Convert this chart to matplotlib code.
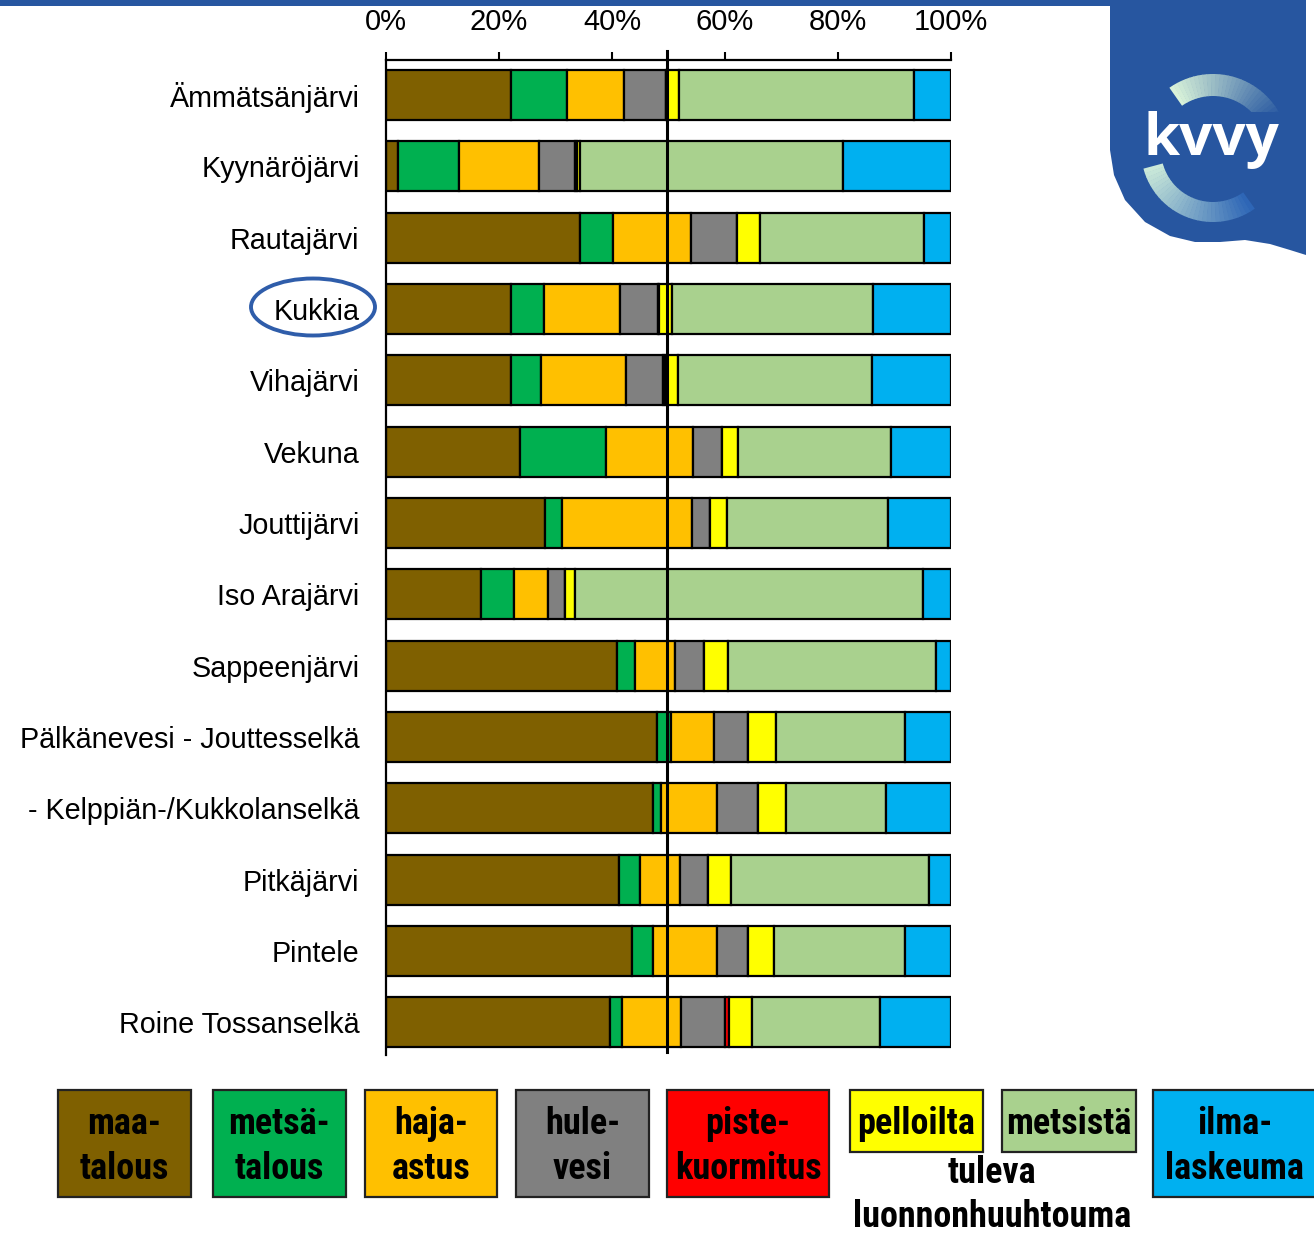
import numpy as np
import matplotlib
matplotlib.use('Agg')
import matplotlib.pyplot as plt
from matplotlib import font_manager
from matplotlib.patches import Rectangle, Ellipse, Polygon, Wedge
from matplotlib.transforms import blended_transform_factory

W, H = 1314, 1234

lakes = ['Ämmätsänjärvi', 'Kyynäröjärvi', 'Rautajärvi', 'Kukkia', 'Vihajärvi',
         'Vekuna', 'Jouttijärvi', 'Iso Arajärvi', 'Sappeenjärvi',
         'Pälkänevesi - Jouttesselkä', '- Kelppiän-/Kukkolanselkä',
         'Pitkäjärvi', 'Pintele', 'Roine Tossanselkä']

# shares of load (%), one list per source
maatalous = [22.1, 2.2, 34.4, 22.2, 22.1, 23.7, 28.1, 16.9, 40.8, 48.0, 47.3, 41.2, 43.6, 39.6]
metsatalous = [10.0, 10.7, 5.7, 5.7, 5.4, 15.3, 3.0, 5.7, 3.3, 2.4, 1.4, 3.8, 3.7, 2.2]
haja_asutus = [10.1, 14.2, 13.8, 13.5, 14.9, 15.4, 23.0, 6.1, 7.0, 7.6, 9.8, 7.0, 11.3, 10.5]
hulevesi = [7.4, 6.3, 8.2, 6.7, 6.6, 5.1, 3.3, 3.0, 5.2, 6.1, 7.3, 5.0, 5.5, 7.7]
pistekuormitus = [0.0, 0.4, 0.0, 0.3, 0.4, 0.0, 0.0, 0.0, 0.0, 0.0, 0.0, 0.0, 0.0, 0.7]
pelloilta = [2.3, 0.5, 4.1, 2.2, 2.3, 2.8, 2.9, 1.7, 4.2, 5.0, 5.0, 4.0, 4.6, 4.0]
metsista = [41.5, 46.5, 29.1, 35.6, 34.3, 27.0, 28.5, 61.7, 36.8, 22.8, 17.7, 35.1, 23.2, 22.8]
ilmalaskeuma = [6.6, 19.2, 4.7, 13.8, 14.0, 10.7, 11.2, 4.9, 2.7, 8.1, 11.5, 3.9, 8.1, 12.5]

series = [maatalous, metsatalous, haja_asutus, hulevesi,
          pistekuormitus, pelloilta, metsista, ilmalaskeuma]
colors = ['#7F6000', '#00B050', '#FFC000', '#808080',
          '#FF0000', '#FFFF00', '#A9D18E', '#00B0F0']
ticks = [0, 20, 40, 60, 80, 100]

plt.rcParams['font.family'] = ['Liberation Sans', 'DejaVu Sans']

# pick a narrow bold font for the legend if one is installed
installed = {f.name for f in font_manager.fontManager.ttflist}
narrow = None
for cand in ['Liberation Sans Narrow', 'Arial Narrow', 'Roboto Condensed',
             'Open Sans Condensed', 'DejaVu Sans Condensed', 'Roboto']:
    if cand in installed:
        narrow = cand
        break
lfont = [narrow, 'DejaVu Sans'] if narrow else ['DejaVu Sans']
lsize = 26 if narrow in ('Liberation Sans Narrow', 'Arial Narrow', 'Roboto Condensed') else 22

fig = plt.figure(figsize=(W / 100, H / 100), dpi=100)
ax = fig.add_axes([386 / W, 1 - 1055 / H, (951 - 386) / W, (1055 - 60) / H])

y = np.arange(len(lakes))
left = np.zeros(len(lakes))
for vals, c in zip(series, colors):
    vals = np.array(vals)
    ax.barh(y, vals, left=left, height=0.7, color=c, edgecolor='black', linewidth=1.6, zorder=2)
    left += vals

ax.set_xlim(0, 100)
ax.set_ylim(13.46, -0.49)
ax.set_yticks(y)
ax.set_yticklabels(lakes, fontsize=20.7)
ax.tick_params(axis='y', length=0, pad=19)
ax.xaxis.tick_top()
ax.set_xticks(ticks)
ax.set_xticklabels([f'{t}%' for t in ticks], fontsize=21)
ax.tick_params(axis='x', direction='out', length=6, width=1.5, pad=11)
for s in ['right', 'bottom']:
    ax.spines[s].set_visible(False)
for s in ['left', 'top']:
    ax.spines[s].set_linewidth(1.6)

# 50 % marker line
tr = blended_transform_factory(ax.transData, ax.transAxes)
ax.plot([49.7, 49.7], [0.003, 1.009], transform=tr, color='black', lw=2.2, clip_on=False, zorder=5)

# overlay in pixel coordinates
ov = fig.add_axes([0, 0, 1, 1], facecolor='none')
ov.set_xlim(0, W)
ov.set_ylim(H, 0)
ov.axis('off')

blue = '#2756A0'
ov.add_patch(Rectangle((0, 0), 1306, 6, color=blue, lw=0))
logo = [(1110, 0), (1306, 0), (1306, 255), (1290, 250), (1270, 244), (1245, 240),
        (1220, 242), (1195, 242), (1170, 236), (1145, 222), (1125, 200), (1114, 175), (1110, 150)]
ov.add_patch(Polygon(logo, closed=True, color=blue, lw=0))
c1 = np.array([0.85, 0.95, 0.85])
c2 = np.array([0.15, 0.34, 0.63])
n = 30
for i in range(n):
    f = i / (n - 1)
    a0 = 235 + 100 * i / n
    ov.add_patch(Wedge((1213, 150), 76, a0, a0 + 100 / n + 0.5, width=22,
                       color=c1 * (1 - f) + c2 * f, lw=0))
    a1 = 165 - 110 * i / n
    ov.add_patch(Wedge((1213, 150), 72, a1 - 110 / n - 0.5, a1, width=20,
                       color=c1 * (1 - f) * 0.9 + np.array([0.3, 0.6, 0.85]) * 0.1 + c2 * f, lw=0))
ov.add_patch(Rectangle((1140, 112), 150, 50, color=blue, lw=0))
ov.text(1211, 140, 'kvvy', color='white', fontsize=42, fontweight='bold',
        ha='center', va='center', family=['Open Sans', 'DejaVu Sans'])

# circle around Kukkia
ov.add_patch(Ellipse((313, 307), 124, 57, fill=False, edgecolor='#2F5DAA', lw=2.8))

# legend
legend_boxes = [
    (58, 191, 1090, 1197, 0, 'maa-\ntalous'),
    (213, 346, 1090, 1197, 1, 'metsä-\ntalous'),
    (365, 497, 1090, 1197, 2, 'haja-\nastus'),
    (516, 649, 1090, 1197, 3, 'hule-\nvesi'),
    (667, 829, 1090, 1197, 4, 'piste-\nkuormitus'),
    (850, 983, 1090, 1152, 5, 'pelloilta'),
    (1002, 1136, 1090, 1152, 6, 'metsistä'),
    (1153, 1316, 1090, 1197, 7, 'ilma-\nlaskeuma'),
]
for x0, x1, y0, y1, ci, lab in legend_boxes:
    ov.add_patch(Rectangle((x0, y0), x1 - x0, y1 - y0, facecolor=colors[ci],
                           edgecolor='#222222', lw=1.6))
    ov.text((x0 + x1) / 2, (y0 + y1) / 2 + 3, lab, ha='center', va='center',
            fontsize=lsize, fontweight='bold', family=lfont, linespacing=1.3)
ov.text(992, 1195, 'tuleva\nluonnonhuuhtouma', ha='center', va='center',
        fontsize=lsize, fontweight='bold', family=lfont, linespacing=1.3)

fig.savefig('out.png', dpi=100)
